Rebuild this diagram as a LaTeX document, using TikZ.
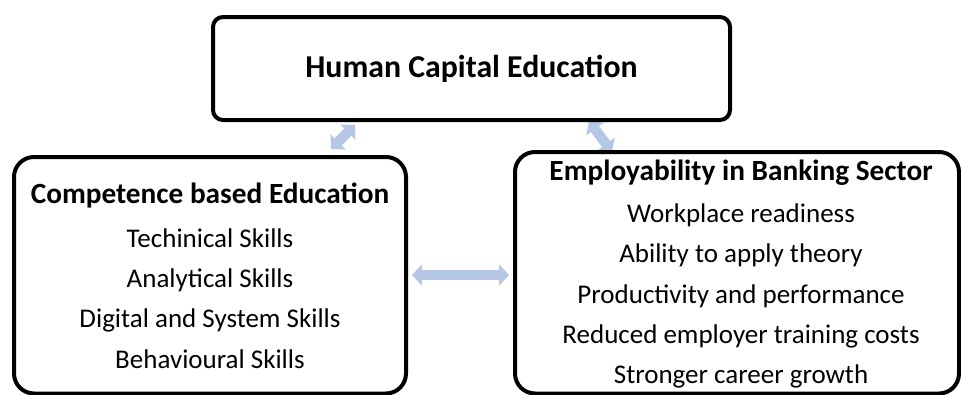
\documentclass[tikz,border=0pt]{standalone}
\usepackage{fontspec}
\setmainfont{Carlito}
\usetikzlibrary{arrows.meta}
\definecolor{linkblue}{RGB}{180,199,231}
\begin{document}
\begin{tikzpicture}[x=1pt,y=-1pt,
  panel/.style={draw=black,line width=4pt,fill=white,inner sep=0pt},
  headline/.style={font=\fontsize{29.3}{33}\selectfont\bfseries,anchor=base,inner sep=0pt},
  titleline/.style={font=\fontsize{31.8}{36}\selectfont\bfseries,anchor=base,inner sep=0pt},
  itemline/.style={font=\fontsize{27}{31}\selectfont,anchor=base,inner sep=0pt},
  link/.style={draw=linkblue,line width=10pt,
    {Triangle[width=21pt,length=10pt]}-{Triangle[width=21pt,length=10pt]}}]
\useasboundingbox (0,0) rectangle (961,394);
\clip (0,0) rectangle (961,394);

% end points of the double arrows
\coordinate (la) at (331,149);
\coordinate (lb) at (355,125);
\coordinate (ra) at (589,121);
\coordinate (rb) at (612,152);
\coordinate (ha) at (412,275);
\coordinate (hb) at (509,275);

% double arrows, drawn first so the panels cover their ends
\draw[link] (la) -- (lb);
\draw[link] (ra) -- (rb);
\draw[link] (ha) -- (hb);

% panels
\node[panel,rounded corners=10pt,minimum width=517pt,minimum height=103pt]
  (top) at (471.5,68.5) {};
\node[panel,rounded corners=20pt,minimum width=392pt,minimum height=236.5pt]
  (left) at (210,275.25) {};
\node[panel,rounded corners=20pt,minimum width=444pt,minimum height=241.5pt]
  (right) at (737,272.75) {};

% top panel
\node[titleline] (title) at (471.5,77) {Human Capital Education};

% left panel
\node[headline] (lhead) at (210,203) {Competence based Education};
\node[itemline] (l1) at (210,247) {Techinical Skills};
\node[itemline] (l2) at (210,287) {Analytical Skills};
\node[itemline] (l3) at (210,327.5) {Digital and System Skills};
\node[itemline] (l4) at (210,368) {Behavioural Skills};

% right panel
\node[headline] (rhead) at (741,180) {Employability in Banking Sector};
\node[itemline] (r1) at (741,222) {Workplace readiness};
\node[itemline] (r2) at (741,262.5) {Ability to apply theory};
\node[itemline] (r3) at (741,303) {Productivity and performance};
\node[itemline] (r4) at (741,343) {Reduced employer training costs};
\node[itemline] (r5) at (741,383) {Stronger career growth};
\end{tikzpicture}
\end{document}
